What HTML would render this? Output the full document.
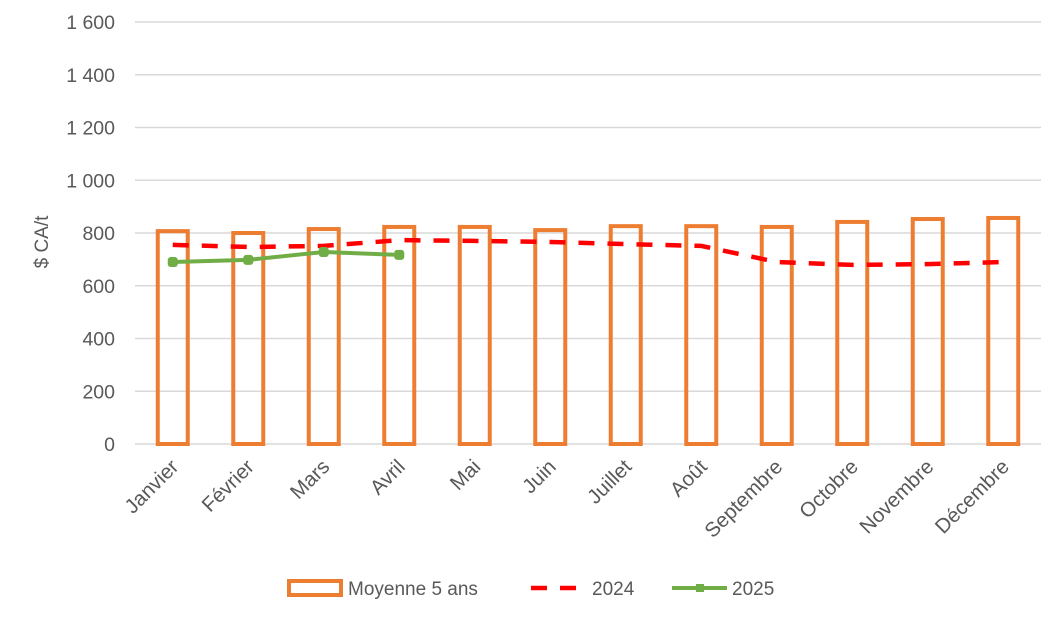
<!DOCTYPE html>
<html><head><meta charset="utf-8"><style>
body{margin:0;background:#fff;}
svg{display:block;font-family:"Liberation Sans",sans-serif;fill:#595959;}
</style></head><body>
<svg id="c" width="1063" height="620" viewBox="0 0 1063 620" xmlns="http://www.w3.org/2000/svg">
<g id="grid"></g>
<g id="yt"></g>
<text transform="translate(48,242) rotate(-90)" text-anchor="middle" font-size="19">$ CA/t</text>
<g id="bars"></g>
<g id="l24"></g>
<g id="l25"></g>
<g id="xt"></g>
<g>
<g><rect x="289" y="581" width="52" height="14" fill="none" stroke="#ED7D31" stroke-width="4"/><text x="348" y="595" font-size="19">Moyenne 5 ans</text></g>
<g><line x1="531" y1="588" x2="586" y2="588" stroke="#FF0000" stroke-width="4.5" stroke-dasharray="16,13"/><text x="592" y="595" font-size="19">2024</text></g>
<g><line x1="672" y1="588" x2="727" y2="588" stroke="#70AD47" stroke-width="4"/><rect x="696" y="584" width="8" height="8" fill="#70AD47"/><text x="732" y="595" font-size="19">2025</text></g>
</g>
</svg>
<script>
const months=["Janvier","Février","Mars","Avril","Mai","Juin","Juillet","Août","Septembre","Octobre","Novembre","Décembre"];
const moyenne=[807,800,815,823,823,811,826,826,823,842,853,857];
const s2024=[755,747,751,773,770,766,758,751,690,679,682,690];
const s2025=[690,698,728,717];
const yTicks=[0,200,400,600,800,1000,1200,1400,1600];
const yTickLabels=["0","200","400","600","800","1 000","1 200","1 400","1 600"];
const NS="http://www.w3.org/2000/svg";
const L=135,R=1041,T=22,B=444,YMAX=1600;
const step=(R-L)/months.length;
const x=i=>L+step*(i+0.5);
const y=v=>B-(v/YMAX)*(B-T);
function mk(tag,attrs,parent){const e=document.createElementNS(NS,tag);for(const k in attrs)e.setAttribute(k,attrs[k]);parent.appendChild(e);return e;}
const grid=document.getElementById('grid'),yt=document.getElementById('yt');
yTicks.forEach((v,i)=>{
  const g=mk('line',{x1:L,x2:R,y1:y(v),y2:y(v),stroke:'#D9D9D9','stroke-width':1.5},grid);
  
  
  const t=mk('text',{x:115,y:y(v)+7,'text-anchor':'end','font-size':19.5},yt);
  t.textContent=yTickLabels[i];
  
  
});
const bars=document.getElementById('bars');
moyenne.forEach((v,i)=>{
  const r=mk('rect',{x:x(i)-15,y:y(v),width:30,height:B-y(v),fill:'none',stroke:'#ED7D31','stroke-width':4},bars);
  
  
});
const p24=mk('polyline',{points:s2024.map((v,i)=>x(i)+','+y(v)).join(' '),fill:'none',stroke:'#FF0000','stroke-width':4.5,'stroke-dasharray':'16,13'},document.getElementById('l24'));


const g25=document.getElementById('l25');
const p25=mk('polyline',{points:s2025.map((v,i)=>x(i)+','+y(v)).join(' '),fill:'none',stroke:'#70AD47','stroke-width':4},g25);


s2025.forEach((v,i)=>{
  const m=mk('rect',{x:x(i)-5,y:y(v)-5,width:10,height:10,rx:3,fill:'#70AD47'},g25);
  
  
});
const xt=document.getElementById('xt');
months.forEach((m,i)=>{
  const t=mk('text',{transform:`translate(${x(i)+7},${468}) rotate(-45)`,'text-anchor':'end','font-size':20.5},xt);
  t.textContent=m;
  
  
});
</script>
</body></html>
